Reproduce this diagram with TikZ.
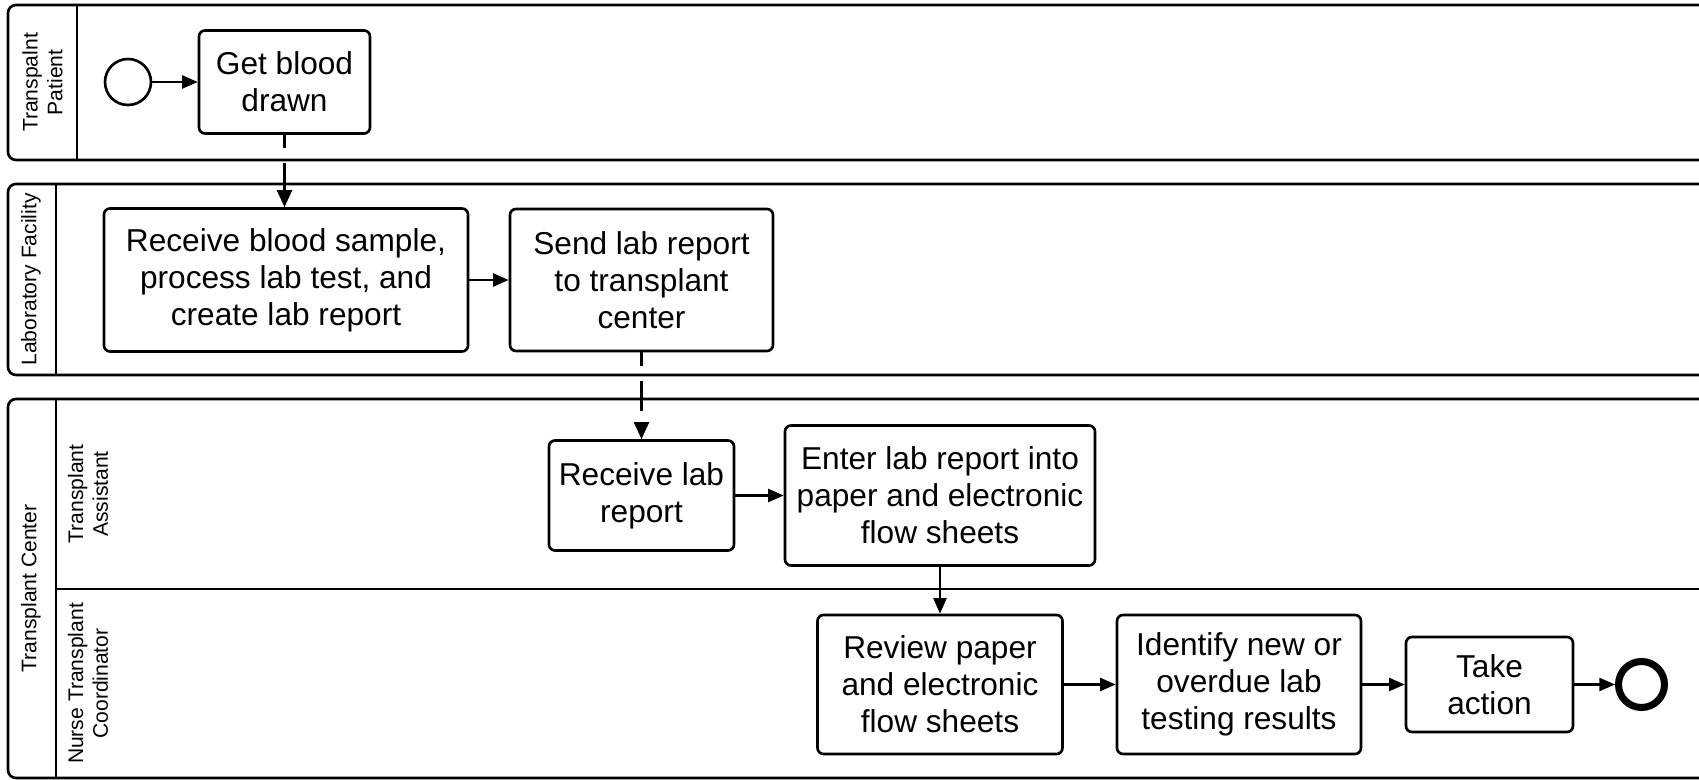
\documentclass[tikz,border=0pt]{standalone}
\usepackage{fontspec}
\setmainfont{Liberation Sans}
\usetikzlibrary{arrows.meta,positioning}

\begin{document}
\begin{tikzpicture}[
  taskbox/.style={rectangle, draw=black, rounded corners=0.6mm, line width=0.75pt, align=center, font=\fontsize{9}{10.5}\selectfont, inner sep=1pt},
  poolline/.style={draw=black, line width=0.75pt},
  lanelabel/.style={rotate=90, align=center, font=\fontsize{6}{7}\selectfont, inner sep=0pt},
  seqarrow/.style={-{Triangle[length=1.55mm,width=1.3mm]}, line width=0.6pt},
  msgarrow/.style={-{Triangle[length=1.7mm,width=1.5mm]}, line width=0.6pt, dash pattern=on 3.8pt off 4.3pt on 8.5pt off 4pt}
]
\useasboundingbox (0,0) rectangle (16.99,-7.80);

% Pools
\draw[poolline, rounded corners=0.8mm] (16.99,-0.05) -- (0.08,-0.05) -- (0.08,-1.60) -- (16.99,-1.60);
\draw[poolline] (0.77,-0.05) -- (0.77,-1.60);
\draw[poolline, rounded corners=0.8mm] (16.99,-1.84) -- (0.08,-1.84) -- (0.08,-3.75) -- (16.99,-3.75);
\draw[poolline] (0.56,-1.84) -- (0.56,-3.75);
\draw[poolline, rounded corners=0.8mm] (16.99,-3.99) -- (0.08,-3.99) -- (0.08,-7.78) -- (16.99,-7.78);
\draw[poolline] (0.56,-3.99) -- (0.56,-7.78);
\draw[poolline] (0.56,-5.89) -- (16.99,-5.89);

% Lane labels
\node[lanelabel] (patientlbl) at (0.425,-0.825) {Transpalnt\\Patient};
\node[lanelabel] (lablbl) at (0.31,-2.795) {Laboratory Facility};
\node[lanelabel] (centerlbl) at (0.31,-5.885) {Transplant Center};
\node[lanelabel] (assistlbl) at (0.88,-4.94) {Transplant\\Assistant};
\node[lanelabel] (nurselbl) at (0.88,-6.835) {Nurse Transplant\\Coordinator};

% Transplant Patient
\node[circle, draw=black, line width=0.75pt, minimum size=0.46cm, inner sep=0pt] (start) at (1.28,-0.82) {};
\node[taskbox, minimum width=1.71cm, minimum height=1.03cm] (getblood) at (2.845,-0.82) {Get blood\\drawn};
\draw[seqarrow] (start) -- (getblood);

% Laboratory Facility
\node[taskbox, minimum width=3.64cm, minimum height=1.43cm] (recvsample) at (2.86,-2.80) {Receive blood sample,\\process lab test, and\\create lab report};
\draw[msgarrow] (getblood.south) -- (getblood.south |- recvsample.north);
\node[taskbox, minimum width=2.63cm, minimum height=1.42cm] (sendreport) at (6.415,-2.80) {Send lab report\\to transplant\\center};
\draw[seqarrow] (recvsample) -- (sendreport);

% Transplant Assistant
\node[taskbox, minimum width=1.85cm, minimum height=1.10cm] (recvreport) at (6.415,-4.955) {Receive lab\\report};
\draw[msgarrow] (sendreport.south) -- (recvreport.north);
\node[taskbox, minimum width=3.10cm, minimum height=1.40cm] (enterreport) at (9.40,-4.955) {Enter lab report into\\paper and electronic\\flow sheets};
\draw[seqarrow] (recvreport) -- (enterreport);

% Nurse Transplant Coordinator
\node[taskbox, minimum width=2.45cm, minimum height=1.39cm] (review) at (9.40,-6.845) {Review paper\\and electronic\\flow sheets};
\draw[seqarrow] (enterreport) -- (review);
\node[taskbox, minimum width=2.44cm, minimum height=1.39cm] (identify) at (12.39,-6.845) {Identify new or\\overdue lab\\testing results};
\draw[seqarrow] (review) -- (identify);
\node[taskbox, minimum width=1.67cm, minimum height=0.95cm] (takeaction) at (14.895,-6.845) {Take\\action};
\draw[seqarrow] (identify) -- (takeaction);

% End Node
\node[circle, draw=black, line width=2pt, minimum size=0.46cm, inner sep=0pt] (end) at (16.415,-6.845) {};
\draw[seqarrow] (takeaction) -- (end);

\end{tikzpicture}
\end{document}
